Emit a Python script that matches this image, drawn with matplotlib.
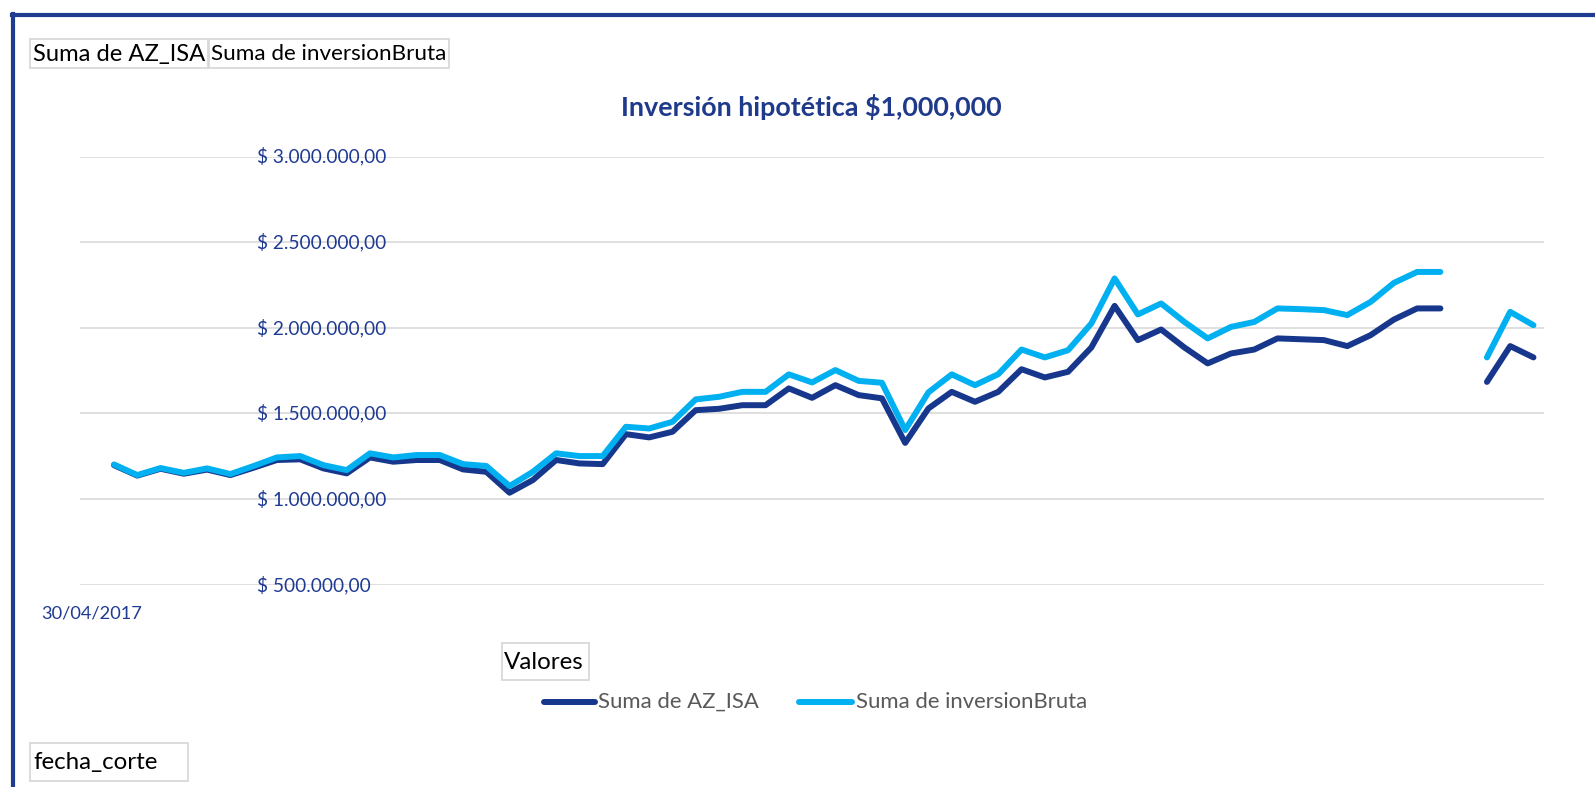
import numpy as np
import matplotlib
matplotlib.use("Agg")
import matplotlib.pyplot as plt
from matplotlib.lines import Line2D
from matplotlib.patches import Rectangle

# ---------------- data ----------------
first_category = "30/04/2017"
series_names = ["Suma de AZ_ISA", "Suma de inversionBruta"]
az_isa = [1198000, 1137000, 1177000, 1148000, 1172000, 1140000, 1183000, 1228000, 1232000, 1179000,
          1150000, 1243000, 1218000, 1228000, 1228000, 1173000, 1159000, 1037000, 1111000, 1228000,
          1208000, 1204000, 1379000, 1360000, 1393000, 1519000, 1527000, 1548000, 1548000, 1646000,
          1591000, 1665000, 1607000, 1588000, 1328000, 1529000, 1626000, 1568000, 1626000, 1758000,
          1710000, 1743000, 1885000, 2128000, 1928000, 1990000, 1885000, 1792000, 1850000, 1873000,
          1938000, 1933000, 1928000, 1893000, 1957000, 2048000, 2113000, 2113000, np.nan, 1684000,
          1893000, 1827000]
inversion_bruta = [1202000, 1140000, 1181000, 1153000, 1179000, 1146000, 1193000, 1243000, 1251000, 1198000,
                   1169000, 1267000, 1243000, 1257000, 1257000, 1204000, 1193000, 1076000, 1159000, 1267000,
                   1251000, 1251000, 1422000, 1412000, 1451000, 1582000, 1597000, 1626000, 1626000, 1728000,
                   1681000, 1753000, 1690000, 1679000, 1403000, 1623000, 1728000, 1665000, 1729000, 1873000,
                   1827000, 1869000, 2025000, 2288000, 2078000, 2142000, 2034000, 1938000, 2005000, 2034000,
                   2113000, 2109000, 2103000, 2074000, 2151000, 2262000, 2326000, 2326000, np.nan, 1827000,
                   2093000, 2015000]
y_ticks = [500000, 1000000, 1500000, 2000000, 2500000, 3000000]
y_tick_labels = ["$ 500.000,00", "$ 1.000.000,00", "$ 1.500.000,00",
                 "$ 2.000.000,00", "$ 2.500.000,00", "$ 3.000.000,00"]
title = "Inversión hipotética $1,000,000"
button_labels = ["Suma de AZ_ISA", "Suma de inversionBruta"]
values_button = "Valores"
axis_button = "fecha_corte"

# ---------------- style ----------------
W, H = 1595, 787
DARK = "#17378C"
LIGHT = "#00B0F0"
LABEL_BLUE = "#1F3A93"
GRID = "#D9D9D9"
FONT = ["Lato", "DejaVu Sans"]
plt.rcParams["font.family"] = FONT

fig = plt.figure(figsize=(W / 100, H / 100), dpi=100)
renderer = fig.canvas.get_renderer()


def fx(px):
    return px / W


def fy(py):
    return 1 - py / H


def fit_size(s, target_w, weight="normal"):
    t = fig.text(0, 0, s, fontsize=10, fontweight=weight)
    w = t.get_window_extent(renderer).width
    t.remove()
    return 10 * target_w / w


# axes
ax_l, ax_r, ax_t, ax_b = 79.5, 1543.5, 156.5, 584.7
ax = fig.add_axes([fx(ax_l), fy(ax_b), fx(ax_r - ax_l), (ax_b - ax_t) / H])
x = np.arange(len(az_isa))
lw = 4.3
ax.plot(x, az_isa, color=DARK, lw=lw, solid_capstyle="round", solid_joinstyle="round", zorder=3)
ax.plot(x, inversion_bruta, color=LIGHT, lw=lw, solid_capstyle="round", solid_joinstyle="round", zorder=4)
step = 23.27
ax.set_xlim((ax_l - 114) / step, (ax_r - 114) / step)
ax.set_ylim(y_ticks[0], y_ticks[-1])
ax.set_yticks(y_ticks)
ax.set_xticks([])
ax.tick_params(axis="y", length=0, labelleft=False)
ax.grid(axis="y", color=GRID, lw=1.2, zorder=1)
for sp in ax.spines.values():
    sp.set_visible(False)
ax.patch.set_alpha(0)

# y tick labels (left-aligned inside plot)
tick_fs = fit_size("$ 1.500.000,00", 129)
for v, lab in zip(y_ticks, y_tick_labels):
    ax.text((257 - ax_l) / (ax_r - ax_l), v, lab, transform=ax.get_yaxis_transform(),
            ha="left", va="center", fontsize=tick_fs, color=LABEL_BLUE, zorder=5)

# category label
cat_fs = fit_size(first_category, 101)
fig.text(fx(91.5), fy(613.5), first_category, ha="center", va="center", fontsize=cat_fs, color=LABEL_BLUE)

# title
title_fs = fit_size(title, 384, weight="bold")
fig.text(fx(811), fy(107), title, ha="center", va="center", fontsize=title_fs,
         fontweight="bold", color="#1F3A8A")


# field buttons
def button(x0, y0, x1, y1, s, tx, text_w):
    fig.patches.append(Rectangle((fx(x0), fy(y1)), fx(x1 - x0), (y1 - y0) / H,
                                 transform=fig.transFigure, fill=False, edgecolor=GRID, lw=1.3))
    fs = fit_size(s, text_w)
    fig.text(fx(tx), fy((y0 + y1) / 2 + 1), s, ha="left", va="center", fontsize=fs, color="black")


button(30.5, 39, 208.5, 68, button_labels[0], 33, 172)
button(208.5, 39, 448.5, 68, button_labels[1], 210.5, 235)
button(501.5, 643, 589, 680, values_button, 503.5, 80)
button(30.5, 742.5, 188, 781, axis_button, 33, 125)

# legend
leg_y = 702
legend_items = [(544, 595, 598, DARK, series_names[0], 160),
                (798.5, 852.5, 856.5, LIGHT, series_names[1], 232)]
for lx0, lx1, tx, c, s, tw in legend_items:
    fig.lines.append(Line2D([fx(lx0), fx(lx1)], [fy(leg_y), fy(leg_y)], transform=fig.transFigure,
                            color=c, lw=lw, solid_capstyle="round"))
    fig.text(fx(tx), fy(leg_y), s, ha="left", va="center", fontsize=fit_size(s, tw), color="#595959")

# outer border (top and left)
BORDER = "#1E3C90"
fig.lines.append(Line2D([fx(12), fx(W)], [fy(15), fy(15)], transform=fig.transFigure, color=BORDER, lw=3))
fig.lines.append(Line2D([fx(13.5), fx(13.5)], [fy(13.5), fy(H)], transform=fig.transFigure, color=BORDER, lw=3))

fig.savefig("out.png", dpi=100)
